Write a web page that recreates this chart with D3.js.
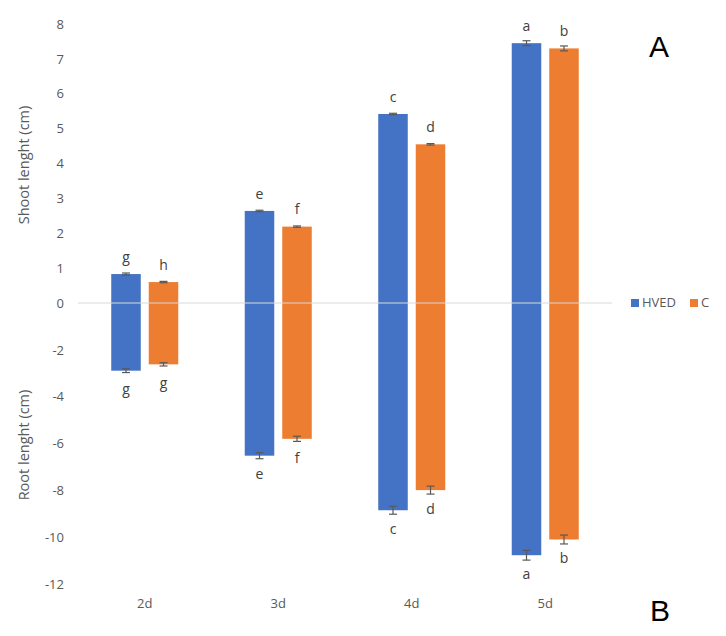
<!DOCTYPE html>
<html>
<head>
<meta charset="utf-8">
<script src="https://cdn.jsdelivr.net/npm/d3@7"></script>
<style>
  body { margin: 0; background: #fff; }
  svg { display: block; }
  text { font-family: "Open Sans", "Liberation Sans", sans-serif; }
</style>
</head>
<body>
<svg id="chart" width="726" height="636"></svg>
<script>
const categories = ["2d", "3d", "4d", "5d"];
const series = ["HVED", "C"];
const colors = ["#4472C4", "#ED7D31"];

const shootHVED = [0.83, 2.64, 5.42, 7.45];
const shootC    = [0.60, 2.19, 4.55, 7.30];
const rootHVED  = [-2.89, -6.52, -8.85, -10.77];
const rootC     = [-2.62, -5.80, -7.99, -10.10];

const shootErrHVED = [0.03, 0.02, 0.02, 0.07];
const shootErrC    = [0.02, 0.02, 0.02, 0.07];
const rootErrHVED  = [0.08, 0.13, 0.17, 0.21];
const rootErrC     = [0.07, 0.11, 0.17, 0.19];

const shootLetHVED = ["g", "e", "c", "a"];
const shootLetC    = ["h", "f", "d", "b"];
const rootLetHVED  = ["g", "e", "c", "a"];
const rootLetC     = ["g", "f", "d", "b"];

const shootTicks = [0, 1, 2, 3, 4, 5, 6, 7, 8];
const rootTicks  = [-2, -4, -6, -8, -10, -12];

const svg = d3.select("#chart");

const x0 = d3.scaleBand().domain(categories).range([78, 612]).paddingInner(0.498).paddingOuter(0.249);
const x1 = d3.scaleBand().domain(series).range([0, x0.bandwidth()]).paddingInner(0.213);
const yTop = d3.scaleLinear().domain([0, 8]).range([303, 24]);
const yBot = d3.scaleLinear().domain([0, -12]).range([303, 584]);

// tick labels
const axTop = svg.append("g").attr("transform", "translate(78,0)")
  .call(d3.axisLeft(yTop).tickValues(shootTicks).tickSize(0).tickPadding(14).tickFormat(d3.format("d")));
const axBot = svg.append("g").attr("transform", "translate(78,0)")
  .call(d3.axisLeft(yBot).tickValues(rootTicks).tickSize(0).tickPadding(14).tickFormat(d => String(d)));
[axTop, axBot].forEach(a => {
  a.select(".domain").remove();
  a.selectAll("text").attr("fill", "#595959").style("font-size", "13px")
    .style("font-family", "'Open Sans', sans-serif");
});

const rows = [];
categories.forEach((c, i) => {
  rows.push({cat: c, s: "HVED", shoot: shootHVED[i], root: rootHVED[i], se: shootErrHVED[i], re: rootErrHVED[i], sl: shootLetHVED[i], rl: rootLetHVED[i]});
  rows.push({cat: c, s: "C", shoot: shootC[i], root: rootC[i], se: shootErrC[i], re: rootErrC[i], sl: shootLetC[i], rl: rootLetC[i]});
});
const color = d3.scaleOrdinal().domain(series).range(colors);
const bx = d => x0(d.cat) + x1(d.s);
const cx = d => bx(d) + x1.bandwidth() / 2;

const g = svg.append("g");
// shoot bars
g.selectAll("rect.shoot").data(rows).join("rect").attr("class", "shoot")
  .attr("x", bx).attr("width", x1.bandwidth())
  .attr("y", d => yTop(d.shoot)).attr("height", d => yTop(0) - yTop(d.shoot))
  .attr("fill", d => color(d.s));
// root bars
g.selectAll("rect.root").data(rows).join("rect").attr("class", "root")
  .attr("x", bx).attr("width", x1.bandwidth())
  .attr("y", yBot(0)).attr("height", d => yBot(d.root) - yBot(0))
  .attr("fill", d => color(d.s));

// zero line (over bars)
svg.append("line").attr("x1", 78).attr("x2", 612)
  .attr("y1", yTop(0)).attr("y2", yTop(0))
  .attr("stroke", "#d9d9d9").attr("stroke-width", 1.2);

// error bars
const eb = svg.append("g").attr("stroke", "#595959").attr("stroke-width", 1.2);
rows.forEach(d => {
  const parts = [
    [yTop(d.shoot + d.se), yTop(d.shoot - d.se)],
    [yBot(d.root - d.re), yBot(d.root + d.re)]
  ];
  parts.forEach(([a, b]) => {
    eb.append("line").attr("x1", cx(d)).attr("x2", cx(d)).attr("y1", a).attr("y2", b);
    eb.append("line").attr("x1", cx(d) - 4).attr("x2", cx(d) + 4).attr("y1", a).attr("y2", a);
    eb.append("line").attr("x1", cx(d) - 4).attr("x2", cx(d) + 4).attr("y1", b).attr("y2", b);
  });
});

// letters
svg.selectAll("text.sl").data(rows).join("text").attr("class", "sl")
  .attr("x", cx).attr("y", d => yTop(d.shoot) - 16)
  .attr("text-anchor", "middle").attr("dominant-baseline", "middle")
  .attr("fill", "#404040").style("font-size", "14px").text(d => d.sl);
svg.selectAll("text.rl").data(rows).join("text").attr("class", "rl")
  .attr("x", cx).attr("y", d => yBot(d.root) + 20)
  .attr("text-anchor", "middle").attr("dominant-baseline", "middle")
  .attr("fill", "#404040").style("font-size", "14px").text(d => d.rl);

// category labels
svg.append("g").attr("transform", "translate(0,605)")
  .selectAll("text").data(categories).join("text")
  .attr("x", d => x0(d) + x0.bandwidth() / 2).attr("y", 0)
  .attr("text-anchor", "middle").attr("dominant-baseline", "middle")
  .attr("fill", "#595959").style("font-size", "13px").text(d => d);

// axis titles
svg.append("text").attr("transform", "translate(25,165) rotate(-90)")
  .attr("text-anchor", "middle").attr("dominant-baseline", "middle")
  .attr("fill", "#595959").style("font-size", "14.5px").text("Shoot lenght (cm)");
svg.append("text").attr("transform", "translate(25,445) rotate(-90)")
  .attr("text-anchor", "middle").attr("dominant-baseline", "middle")
  .attr("fill", "#595959").style("font-size", "14.5px").text("Root lenght (cm)");

// legend
const lg = svg.append("g");
const legX = [631, 690];
series.forEach((s, i) => {
  lg.append("rect").attr("x", legX[i]).attr("y", 299).attr("width", 8).attr("height", 8).attr("fill", colors[i]);
  lg.append("text").attr("x", legX[i] + 11).attr("y", 303.5).attr("dominant-baseline", "middle")
    .attr("fill", "#595959").style("font-size", "13px").text(s);
});

// panel letters
svg.append("text").attr("x", 659).attr("y", 57).attr("text-anchor", "middle")
  .attr("fill", "#000").style("font-size", "30px").style("font-family", "'Liberation Sans', Arial, sans-serif").text("A");
svg.append("text").attr("x", 660).attr("y", 621).attr("text-anchor", "middle")
  .attr("fill", "#000").style("font-size", "30px").style("font-family", "'Liberation Sans', Arial, sans-serif").text("B");
</script>
</body>
</html>
